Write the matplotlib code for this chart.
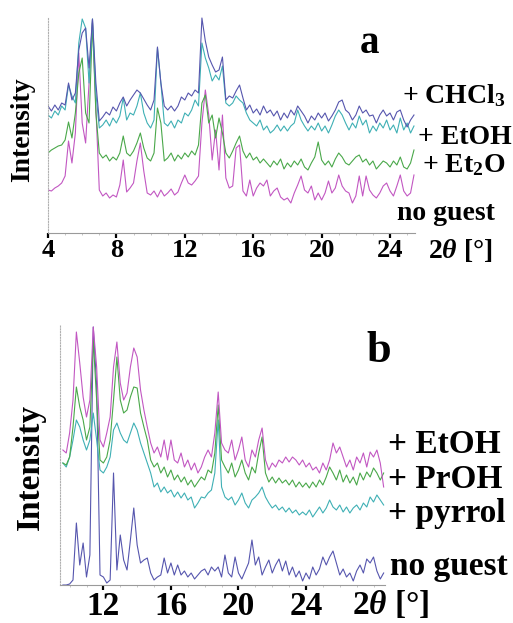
import numpy as np
import matplotlib.pyplot as plt
from matplotlib.ticker import FixedLocator, MultipleLocator

plt.rcParams["font.family"] = "Liberation Serif"
plt.rcParams["font.weight"] = "bold"
plt.rcParams["mathtext.fontset"] = "custom"
plt.rcParams["mathtext.rm"] = "Liberation Serif:bold"
plt.rcParams["mathtext.it"] = "Liberation Serif:italic"
plt.rcParams["mathtext.bf"] = "Liberation Serif:bold"

# ---- panel a: powder patterns sampled every 0.2 deg, 4.0 .. 25.4 ----
two_theta_a = np.round(np.arange(4.0, 25.41, 0.2), 1)

chcl3_a = [127, 122, 128, 123, 130, 128, 150, 133, 140, 183,
           200, 205, 165, 214, 150, 112, 116, 121, 118, 126,
           122, 130, 136, 127, 133, 138, 143, 140, 134, 128,
           123, 133, 186, 150, 127, 123, 127, 122, 127, 136,
           133, 140, 137, 143, 140, 215, 192, 176, 168, 161,
           163, 176, 133, 137, 135, 142, 148, 135, 123, 128,
           120, 124, 118, 127, 120, 123, 117, 122, 113, 120,
           115, 123, 118, 127, 122, 117, 110, 117, 113, 120,
           115, 120, 112, 117, 123, 131, 133, 123, 120, 113,
           118, 127, 120, 123, 117, 118, 110, 118, 123, 117,
           120, 113, 121, 123, 113, 106, 113, 118]
etoh_a = [118, 115, 122, 118, 127, 123, 148, 137, 130, 190,
          214, 205, 150, 214, 140, 105, 108, 113, 107, 115,
          110, 117, 135, 113, 120, 118, 127, 140, 120, 110,
          105, 113, 185, 150, 110, 107, 112, 105, 113, 110,
          120, 117, 123, 133, 127, 190, 175, 165, 152, 158,
          153, 167, 130, 127, 130, 137, 133, 130, 120, 113,
          110, 107, 113, 103, 107, 100, 103, 108, 102, 107,
          102, 107, 110, 123, 113, 107, 102, 107, 103, 110,
          102, 107, 100, 108, 117, 123, 118, 110, 103, 110,
          105, 117, 108, 113, 100, 107, 102, 110, 105, 113,
          103, 108, 100, 115, 103, 110, 100, 107]
et2o_a = [80, 83, 85, 87, 88, 93, 111, 95, 120, 160,
          175, 120, 110, 210, 120, 80, 75, 78, 72, 76,
          73, 80, 97, 80, 77, 82, 90, 100, 85, 75,
          72, 80, 125, 110, 72, 75, 80, 72, 78, 74,
          80, 76, 82, 78, 88, 130, 138, 110, 118, 95,
          115, 100, 80, 75, 82, 90, 97, 82, 75, 80,
          73, 76, 70, 74, 70, 66, 72, 68, 74, 64,
          70, 66, 72, 68, 74, 66, 63, 70, 76, 91,
          73, 68, 72, 66, 74, 80, 76, 70, 68, 72,
          76, 78, 71, 74, 68, 72, 64, 68, 72, 70,
          66, 72, 68, 76, 66, 64, 70, 83]
noguest_a = [43, 42, 45, 47, 50, 57, 92, 70, 100, 180,
             110, 90, 150, 213, 125, 43, 37, 40, 35, 38,
             36, 48, 73, 41, 45, 50, 72, 90, 62, 40,
             38, 42, 36, 43, 37, 40, 44, 38, 41, 50,
             58, 50, 48, 52, 57, 110, 143, 118, 73, 103,
             63, 118, 55, 45, 47, 85, 88, 42, 37, 53,
             37, 45, 50, 47, 53, 37, 42, 45, 36, 33,
             35, 30, 40, 48, 57, 43, 40, 47, 33, 40,
             33, 40, 52, 40, 45, 58, 47, 42, 40, 30,
             37, 57, 37, 57, 43, 38, 35, 40, 47, 50,
             42, 37, 47, 58, 42, 37, 40, 58]

# ---- panel b: sampled every 0.2 deg, 9.6 .. 28.6 ----
two_theta_b = np.round(np.arange(9.6, 28.61, 0.2), 1)

etoh_b = [135, 132, 152, 185, 253, 222, 188, 168, 185, 258,
          218, 145, 138, 152, 168, 218, 243, 202, 185, 192,
          218, 237, 228, 195, 175, 158, 142, 132, 138, 128,
          145, 125, 145, 125, 122, 132, 118, 125, 115, 122,
          112, 118, 128, 135, 128, 152, 193, 142, 135, 132,
          145, 125, 135, 148, 125, 118, 135, 128, 145, 157,
          125, 115, 122, 118, 125, 122, 128, 123, 128, 125,
          120, 125, 118, 122, 115, 118, 112, 122, 115, 125,
          142, 132, 138, 128, 118, 125, 115, 128, 122, 132,
          118, 133, 128, 135, 122, 98]
proh_b = [122, 120, 128, 158, 198, 178, 165, 145, 158, 245,
          185, 125, 122, 128, 145, 185, 228, 185, 172, 175,
          188, 198, 197, 172, 158, 145, 125, 118, 122, 112,
          118, 108, 115, 105, 110, 103, 108, 100, 105, 98,
          103, 108, 105, 115, 112, 132, 180, 125, 118, 112,
          122, 108, 115, 125, 112, 105, 118, 112, 132, 148,
          112, 103, 108, 102, 107, 102, 105, 100, 105, 98,
          103, 98, 102, 97, 103, 98, 105, 100, 108, 118,
          112, 105, 115, 103, 110, 102, 108, 100, 112, 105,
          113, 108, 117, 112, 105, 112]
pyrrol_b = [122, 118, 128, 145, 165, 158, 145, 135, 145, 172,
            145, 115, 112, 118, 128, 155, 162, 152, 145, 142,
            152, 162, 155, 142, 132, 122, 112, 98, 102, 93,
            98, 92, 95, 88, 93, 87, 92, 85, 88, 77,
            82, 88, 87, 92, 95, 112, 165, 98, 88, 85,
            88, 80, 85, 92, 82, 77, 85, 88, 92, 98,
            88, 82, 77, 80, 75, 78, 73, 77, 72, 75,
            70, 73, 70, 75, 68, 73, 78, 72, 77, 85,
            78, 75, 80, 73, 78, 72, 77, 80, 75, 82,
            78, 88, 83, 90, 85, 80]
noguest_b = [0, 0, 1, 5, 62, 20, 42, 8, 30, 258,
             200, 10, 8, 2, 5, 112, 15, 50, 25, 15,
             45, 77, 40, 22, 25, 27, 12, 5, 8, 10,
             27, 12, 22, 10, 20, 10, 14, 8, 12, 6,
             10, 14, 16, 10, 18, 14, 18, 8, 30, 12,
             8, 28, 12, 6, 14, 22, 45, 20, 28, 10,
             18, 25, 12, 20, 26, 14, 24, 10, 18, 8,
             14, 4, 12, 6, 18, 10, 16, 28, 20, 28,
             34, 22, 10, 16, 8, 12, 4, 14, 20, 12,
             26, 22, 28, 14, 6, 12]

c_blue = "#5656ae"
c_cyan = "#3fb0b5"
c_green = "#4aa84a"
c_mag = "#c257c2"

W, H = 513, 623
fig = plt.figure(figsize=(W / 100, H / 100), dpi=100)


def fx(px):
    return px / W


def fy(py):
    return 1 - py / H


def style_axis(ax, majors, lsize):
    for s in ["top", "right"]:
        ax.spines[s].set_visible(False)
    ax.spines["left"].set_linestyle((0, (1, 1.5)))
    ax.spines["left"].set_color("#b0b0b0")
    ax.spines["left"].set_linewidth(0.8)
    ax.spines["bottom"].set_color("#9a9a9a")
    ax.spines["bottom"].set_linewidth(0.8)
    ax.set_yticks([])
    ax.xaxis.set_major_locator(FixedLocator(majors))
    ax.xaxis.set_minor_locator(MultipleLocator(1))
    ax.tick_params(axis="x", which="major", length=3.5, width=1.6,
                   color="black", direction="out", pad=0.5,
                   labelsize=lsize)
    ax.tick_params(axis="x", which="minor", length=1.5, width=0.6,
                   color="#bbbbbb", direction="out")


# panel a
ax_a = fig.add_axes([fx(48), fy(233), fx(415) - fx(48), 216 / H])
ax_a.plot(two_theta_a, noguest_a, color=c_mag, lw=0.8)
ax_a.plot(two_theta_a, et2o_a, color=c_green, lw=0.8)
ax_a.plot(two_theta_a, etoh_a, color=c_cyan, lw=0.8)
ax_a.plot(two_theta_a, chcl3_a, color=c_blue, lw=0.8)
ax_a.set_xlim(4, 25.46)
ax_a.set_ylim(0, 216)
style_axis(ax_a, [4, 8, 12, 16, 20, 24], 19)

# panel b
ax_b = fig.add_axes([fx(60), fy(585), fx(385) - fx(60), 260 / H])
ax_b.plot(two_theta_b, noguest_b, color=c_blue, lw=0.8)
ax_b.plot(two_theta_b, pyrrol_b, color=c_cyan, lw=0.8)
ax_b.plot(two_theta_b, proh_b, color=c_green, lw=0.8)
ax_b.plot(two_theta_b, etoh_b, color=c_mag, lw=0.8)
ax_b.set_xlim(9.43, 28.68)
ax_b.set_ylim(0, 260)
style_axis(ax_b, [12, 16, 20, 24], 24)

# labels, panel a
fig.text(fx(23), fy(130), "Intensity", rotation=90, ha="center", va="center", fontsize=20)
fig.text(fx(360), fy(53), "a", fontsize=28, va="baseline")
fig.text(fx(402), fy(103), "+ CHCl$_3$", fontsize=20, va="baseline")
fig.text(fx(418), fy(144), "+ EtOH", fontsize=20, va="baseline")
fig.text(fx(422), fy(172), "+ Et$_2$O", fontsize=20, va="baseline")
fig.text(fx(397), fy(220), "no guest", fontsize=20, va="baseline")
fig.text(fx(428), fy(258), r"2$\theta$ [°]", fontsize=20, va="baseline")

# labels, panel b
fig.text(fx(30), fy(467), "Intensity", rotation=90, ha="center", va="center", fontsize=24)
fig.text(fx(366), fy(362), "b", fontsize=32, va="baseline")
fig.text(fx(388), fy(453), "+ EtOH", fontsize=24, va="baseline")
fig.text(fx(388), fy(488), "+ PrOH", fontsize=24, va="baseline")
fig.text(fx(388), fy(522), "+ pyrrol", fontsize=24, va="baseline")
fig.text(fx(390), fy(575), "no guest", fontsize=24, va="baseline")
fig.text(fx(352), fy(614), r"2$\theta$ [°]", fontsize=24, va="baseline")

fig.savefig("out.png", dpi=100)
